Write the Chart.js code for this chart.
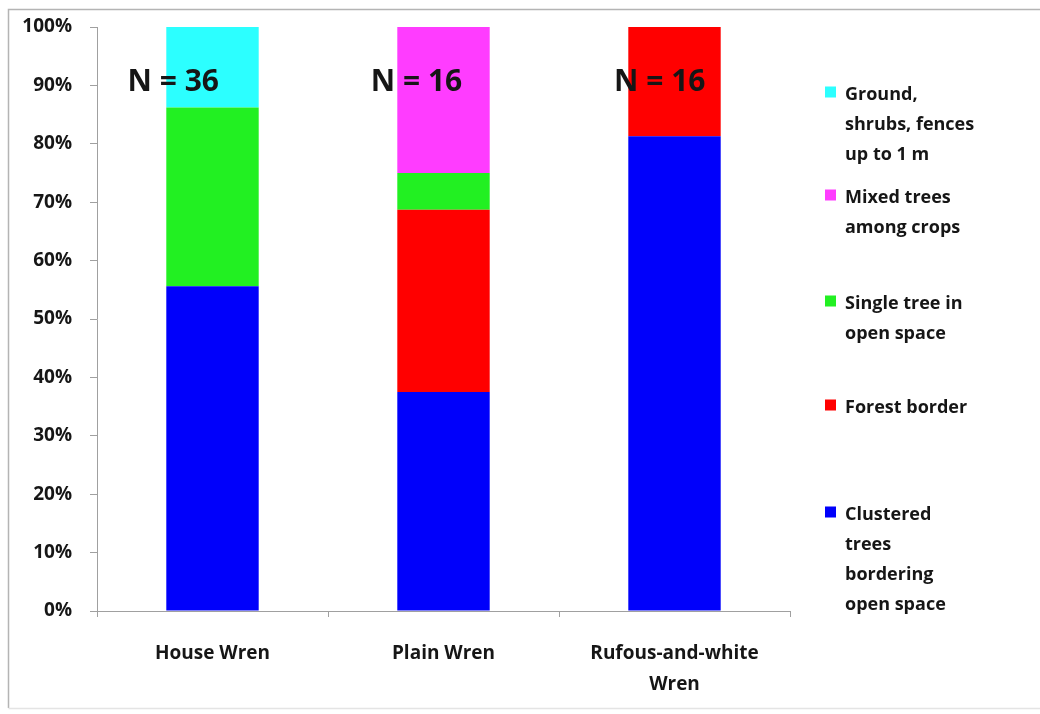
<!DOCTYPE html>
<html>
<head>
<meta charset="utf-8">
<script src="https://cdn.jsdelivr.net/npm/chart.js@4.4.1/dist/chart.umd.min.js"></script>
<style>
  html, body { margin: 0; padding: 0; background: #ffffff; }
  canvas { display: block; }
</style>
</head>
<body>
<canvas id="nestChart" width="1040" height="714"></canvas>
<script>
// Nest site location by wren species (percent of nests)
const categories = ['House Wren', 'Plain Wren', ['Rufous-and-white', 'Wren']];
const sampleSizes = [36, 16, 16];

const clusteredTrees = [55.6, 37.5, 81.3];
const forestBorder   = [0, 31.2, 18.7];
const singleTree     = [30.6, 6.3, 0];
const mixedTrees     = [0, 25, 0];
const groundShrubs   = [13.8, 0, 0];

const yTickValues = [0, 10, 20, 30, 40, 50, 60, 70, 80, 90, 100];

// Legend wording, one list of lines per habitat type
const legendClustered = ['Clustered', 'trees', 'bordering', 'open space'];
const legendForest    = ['Forest border'];
const legendSingle    = ['Single tree in', 'open space'];
const legendMixed     = ['Mixed trees', 'among crops'];
const legendGround    = ['Ground,', 'shrubs, fences', 'up to 1 m'];

const FONT = "'Open Sans', 'DejaVu Sans', sans-serif";
const INK = '#161616';

const datasets = [
  { label: 'Clustered trees bordering open space', data: clusteredTrees, backgroundColor: '#0000fb', lines: legendClustered },
  { label: 'Forest border', data: forestBorder, backgroundColor: '#ff0000', lines: legendForest },
  { label: 'Single tree in open space', data: singleTree, backgroundColor: '#22f022', lines: legendSingle },
  { label: 'Mixed trees among crops', data: mixedTrees, backgroundColor: '#ff3cff', lines: legendMixed },
  { label: 'Ground, shrubs, fences up to 1 m', data: groundShrubs, backgroundColor: '#2cffff', lines: legendGround }
];

// Thin grey frame round the whole figure
const framePlugin = {
  id: 'frame',
  beforeDraw(chart) {
    const ctx = chart.ctx;
    ctx.save();
    ctx.fillStyle = '#ffffff';
    ctx.fillRect(0, 0, chart.width, chart.height);
    ctx.strokeStyle = '#b4b4b4';
    ctx.lineWidth = 1.5;
    ctx.beginPath();
    ctx.moveTo(8.5, 708);
    ctx.lineTo(8.5, 9.5);
    ctx.lineTo(chart.width + 2, 9.5);
    ctx.stroke();
    ctx.strokeStyle = '#e4e4e4';
    ctx.beginPath();
    ctx.moveTo(8.5, 708.5);
    ctx.lineTo(chart.width + 2, 708.5);
    ctx.stroke();
    ctx.restore();
  }
};

// "N = ..." sample-size captions across the top of the plot
const sampleSizePlugin = {
  id: 'sampleSizes',
  afterDatasetsDraw(chart, args, opts) {
    const ctx = chart.ctx;
    const area = chart.chartArea;
    const y = chart.scales.y.getPixelForValue(opts.level);
    ctx.save();
    ctx.font = 'bold 30px ' + FONT;
    ctx.fillStyle = INK;
    ctx.textAlign = 'center';
    ctx.textBaseline = 'middle';
    sampleSizes.forEach((n, i) => {
      const x = area.left + (opts.start + opts.step * i) * (area.right - area.left);
      ctx.fillText('N = ' + n, x, y);
    });
    ctx.restore();
  }
};

// Legend on the right, top to bottom in reverse stacking order
const sideLegendPlugin = {
  id: 'sideLegend',
  afterDraw(chart, args, opts) {
    const ctx = chart.ctx;
    ctx.save();
    ctx.font = 'bold 18px ' + FONT;
    ctx.textAlign = 'left';
    ctx.textBaseline = 'middle';
    const items = chart.data.datasets.slice().reverse();
    items.forEach((ds, k) => {
      const top = opts.rows[k];
      ctx.fillStyle = ds.backgroundColor;
      ctx.fillRect(opts.boxX, top - 3 - opts.box / 2, opts.box, opts.box);
      ctx.fillStyle = INK;
      ds.lines.forEach((line, j) => {
        ctx.fillText(line, opts.textX, top + j * opts.lineHeight);
      });
    });
    ctx.restore();
  }
};

new Chart(document.getElementById('nestChart'), {
  type: 'bar',
  data: { labels: categories, datasets: datasets },
  plugins: [framePlugin, sampleSizePlugin, sideLegendPlugin],
  options: {
    responsive: false,
    animation: false,
    layout: { padding: { top: 27, right: 250, left: 0, bottom: 0 } },
    datasets: { bar: { categoryPercentage: 1.0, barPercentage: 0.4, borderWidth: 0 } },
    plugins: {
      legend: { display: false },
      tooltip: { enabled: false },
      sampleSizes: { level: 90.5, start: 0.11, step: 0.351 },
      sideLegend: {
        rows: [95, 198, 304, 408, 515],
        lineHeight: 30,
        boxX: 825,
        box: 11,
        textX: 845
      }
    },
    scales: {
      x: {
        stacked: true,
        afterFit(scale) { scale.height = 103; },
        grid: { display: true, offset: true, drawOnChartArea: false, drawTicks: true, tickLength: 6, color: '#a0a0a0' },
        border: { display: true, color: '#a0a0a0', width: 1 },
        ticks: {
          color: INK,
          padding: 21,
          maxRotation: 0,
          font: { family: FONT, size: 19, weight: 'bold', lineHeight: 1.63 }
        }
      },
      y: {
        stacked: true,
        min: 0,
        max: 100,
        afterFit(scale) {
          scale.width = 97;
          scale.paddingTop = 0;
          scale.paddingBottom = 0;
        },
        afterBuildTicks(scale) { scale.ticks = yTickValues.map(v => ({ value: v })); },
        grid: { display: true, drawOnChartArea: false, drawTicks: true, tickLength: 7, color: '#a0a0a0' },
        border: { display: true, color: '#a0a0a0', width: 1 },
        ticks: {
          color: INK,
          padding: 18,
          font: { family: FONT, size: 19, weight: 'bold' },
          callback: v => v + '%'
        }
      }
    }
  }
});
</script>
</body>
</html>
